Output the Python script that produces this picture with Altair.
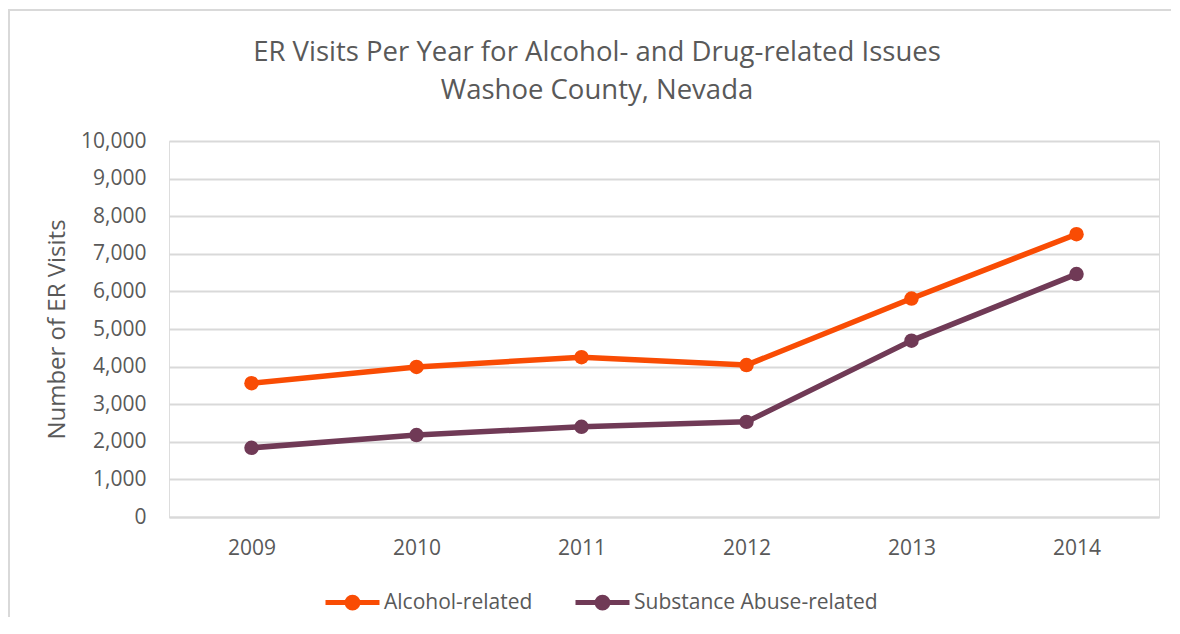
import altair as alt
import pandas as pd

years = ["2009", "2010", "2011", "2012", "2013", "2014"]
alcohol = [3560, 3990, 4250, 4040, 5810, 7520]
substance = [1840, 2180, 2400, 2530, 4690, 6460]
series_names = ["Alcohol-related", "Substance Abuse-related"]
series_colors = ["#F94C04", "#703A56"]
y_ticks = list(range(0, 10001, 1000))
title_lines = ["ER Visits Per Year for Alcohol- and Drug-related Issues", "Washoe County, Nevada"]
y_title = "Number of ER Visits"

rows = []
for name, vals in zip(series_names, [alcohol, substance]):
    for yr, v in zip(years, vals):
        rows.append({"Year": yr, "Visits": v, "Series": name})
df = pd.DataFrame(rows)

W, H = 990, 376
FONT = "Open Sans"
GREY = "#595959"
sym = "M-1,0L1,0M-0.2,0A0.2,0.2,0,1,0,0.2,0A0.2,0.2,0,1,0,-0.2,0Z"

x_enc = alt.X("Year:O", sort=years, title=None,
              scale=alt.Scale(type="point", padding=0.5),
              axis=alt.Axis(labelAngle=0, ticks=False, domainColor="#D9D9D9", domainWidth=2,
                            labelPadding=20, labelFontSize=21, labelColor=GREY, labelFont=FONT))
y_enc = alt.Y("Visits:Q", title=y_title,
              scale=alt.Scale(domain=[0, 10000], nice=False),
              axis=alt.Axis(values=y_ticks, format=",.0f", ticks=False, domain=False,
                            gridColor="#D9D9D9", gridWidth=2,
                            labelPadding=23, labelFontSize=21, labelColor=GREY, labelFont=FONT,
                            titleFontSize=24, titleFontWeight="normal", titleColor=GREY,
                            titleFont=FONT, titlePadding=11))
color_enc = alt.Color("Series:N", sort=series_names,
                      scale=alt.Scale(domain=series_names, range=series_colors),
                      legend=alt.Legend(title=None, orient="none", direction="horizontal",
                                        legendX=154, legendY=432, labelLimit=400,
                                        symbolType=sym, symbolSize=2916, symbolStrokeWidth=5,
                                        labelFontSize=21, labelColor=GREY, labelFont=FONT,
                                        labelOffset=2, columnPadding=32))

base = alt.Chart(df)
lines = base.mark_line(strokeWidth=5.5, strokeCap="round", strokeJoin="round").encode(
    x=x_enc, y=y_enc, color=color_enc)
points = base.mark_point(filled=True, size=210, opacity=1).encode(
    x=x_enc, y=y_enc, color=color_enc)

frame_df = pd.DataFrame({"k": [0]})
frame_top = alt.Chart(frame_df).mark_rule(color="#D9D9D9", strokeWidth=2).encode(
    x=alt.value(-161), x2=alt.value(W + 20), y=alt.value(-131))
frame_left = alt.Chart(frame_df).mark_rule(color="#D9D9D9", strokeWidth=2).encode(
    x=alt.value(-160), y=alt.value(-131), y2=alt.value(H + 110))

chart = alt.layer(frame_top, frame_left, lines, points).properties(
    width=W, height=H,
    autosize=alt.AutoSizeParams(type="none"),
    padding={"left": 161, "top": 133, "right": 12, "bottom": 100},
    title=alt.TitleParams(title_lines, fontSize=27.5, font=FONT, fontWeight="normal",
                          color=GREY, anchor="middle", dx=-67, offset=30, dy=125,
                          lineHeight=38),
).configure_view(stroke=None).configure(font=FONT)

chart.save("out.html", embed_options={"renderer": "svg", "actions": False})
